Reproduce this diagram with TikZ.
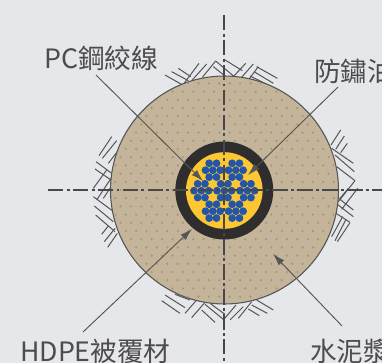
\documentclass[tikz,border=0pt]{standalone}
\usepackage{fontspec}
\newfontfamily\cjkf{Noto Sans CJK TC}
\definecolor{bg}{HTML}{E5E7EA}
\definecolor{fillc}{HTML}{C4B49A}
\definecolor{dotc}{HTML}{A5967A}
\definecolor{ringc}{HTML}{2F2D2E}
\definecolor{corec}{HTML}{FDC733}
\definecolor{strandc}{HTML}{2356A8}
\definecolor{linec}{HTML}{555555}
\tikzset{
 hatch/.style={draw=linec,line width=0.75pt},
 axisline/.style={draw=linec!85!black,line width=0.9pt,dash pattern=on 11.5pt off 2.5pt on 2.2pt off 2.5pt},
 leader/.style={draw=linec,line width=0.7pt,-{Latex[length=9pt,width=5.5pt]}},
 lab/.style={font=\cjkf\fontsize{20pt}{20pt}\selectfont,text=black!70,inner sep=0pt,anchor=west},
 strand/.style={fill=strandc,draw=none}
}
\usetikzlibrary{arrows.meta}
\begin{document}
\begin{tikzpicture}[x=0.75pt,y=-0.75pt]
\useasboundingbox (0,0) rectangle (382,363);
\clip (0,0) rectangle (382,363);
\fill[bg] (0,0) rectangle (382,363);
% hatching, top
\begin{scope}[shift={(150,50)},scale=1/3]
\draw[hatch] (45,75)--(98,105) (65,65)--(115,92) (85,55)--(122,80);
\draw[hatch] (100,103)--(147,40) (125,92)--(170,42) (157,82)--(197,33);
\draw[hatch] (197,33)--(253,80) (190,50)--(225,78) ;
\draw[hatch] (222,28)--(277,62) (250,80)--(287,40) (272,85)--(310,42) (295,90)--(325,50);
\draw[hatch] (320,50)--(382,85) (312,65)--(370,100) (300,78)--(355,105);
\end{scope}
% left
\begin{scope}[shift={(85,120)},scale=1/3]
\draw[hatch] (42,107)--(80,50) (52,115)--(95,62) (70,130)--(97,95);
\draw[hatch] (33,125)--(80,160) (30,147)--(78,180);
\draw[hatch] (25,205)--(65,150) (35,240)--(78,175) (55,235)--(75,205);
\draw[hatch] (25,230)--(82,272) (28,258)--(85,305) (32,285)--(90,335);
\draw[hatch] (50,343)--(70,318) (58,365)--(90,325) (68,382)--(97,340);
\end{scope}
% right
\begin{scope}[shift={(320,120)},scale=1/3]
\draw[hatch] (33,75)--(62,30) (47,88)--(73,48) (62,98)--(82,70);
\draw[hatch] (35,85)--(100,130) (45,105)--(103,155) (50,140)--(105,182);
\draw[hatch] (105,182)--(55,245) (113,205)--(65,268) (85,205)--(60,235);
\draw[hatch] (50,230)--(100,270) (48,250)--(100,290) (48,280)--(90,307);
\draw[hatch] (35,350)--(68,290) (45,362)--(78,298) (52,365)--(90,308);
\end{scope}
% bottom
\begin{scope}[shift={(150,285)},scale=1/3]
\draw[hatch] (35,47)--(90,85) (45,30)--(105,68) (75,28)--(120,45);
\draw[hatch] (105,85)--(140,45) (125,98)--(165,52);
\draw[hatch] (155,75)--(195,112) (165,58)--(220,103) (180,55)--(225,88);
\draw[hatch] (220,105)--(258,60) (240,105)--(280,65) (265,100)--(305,50);
\draw[hatch] (320,45)--(370,75) (305,60)--(352,85) (295,72)--(328,92);
\end{scope}
% grout
\node[circle,minimum size=171pt,inner sep=0pt,fill=fillc,draw=linec,line width=0.8pt] (grout) at (224.5,190) {};
\begin{scope}
\clip (224.5,190) circle (112.5);
\foreach \r in {-14,...,14}{
  \pgfmathsetmacro{\off}{mod(abs(\r),2)*5.2}
  \foreach \c in {-12,...,12}{
    \fill[dotc] ({224.5+\c*10.4+\off},{190+\r*8.2}) circle (1.2);
  }
}
\end{scope}
% sheath and core
\node[circle,minimum size=73.5pt,inner sep=0pt,fill=ringc] (sheath) at (224.3,190.5) {};
\node[circle,minimum size=57.5pt,inner sep=0pt,fill=corec] (core) at (224.3,190.5) {};
\foreach \bx/\by in {0/0,23/0,-23/0,11.5/-20.5,-11.5/-20.5,11.5/20.5,-11.5/20.5}{
  \foreach \sx/\sy in {0/0,7.3/0,-7.3/0,3.65/-6.9,-3.65/-6.9,3.65/6.9,-3.65/6.9}{
    \fill[strand] ({224.3+\bx+\sx},{190.7+\by+\sy}) circle (3.9);
  }
}
% axes
\coordinate (axL) at (48,190);
\coordinate (axR) at (382,190);
\coordinate (axT) at (224,15);
\coordinate (axB) at (224,363);
\draw[axisline] (axL)--(axR);
\draw[axisline] (axT)--(axB);
% labels
\node[lab] (pc) at (44,58) {PC鋼絞線};
\node[lab] (rust) at (314,71) {防鏽油};
\node[lab] (hdpe) at (20,351) {HDPE被覆材};
\node[lab] (cement) at (310,351) {水泥漿};
% leaders
\coordinate (pcS) at (96,75);
\coordinate (pcT) at (203,181);
\coordinate (ruS) at (338,87);
\coordinate (ruT) at (248,175);
\coordinate (hdS) at (83,332);
\coordinate (hdT) at (192,229);
\coordinate (ceS) at (342,326);
\coordinate (ceT) at (273,254);
\draw[leader] (pcS)--(pcT);
\draw[leader] (ruS)--(ruT);
\draw[leader] (hdS)--(hdT);
\draw[leader] (ceS)--(ceT);
\end{tikzpicture}
\end{document}
